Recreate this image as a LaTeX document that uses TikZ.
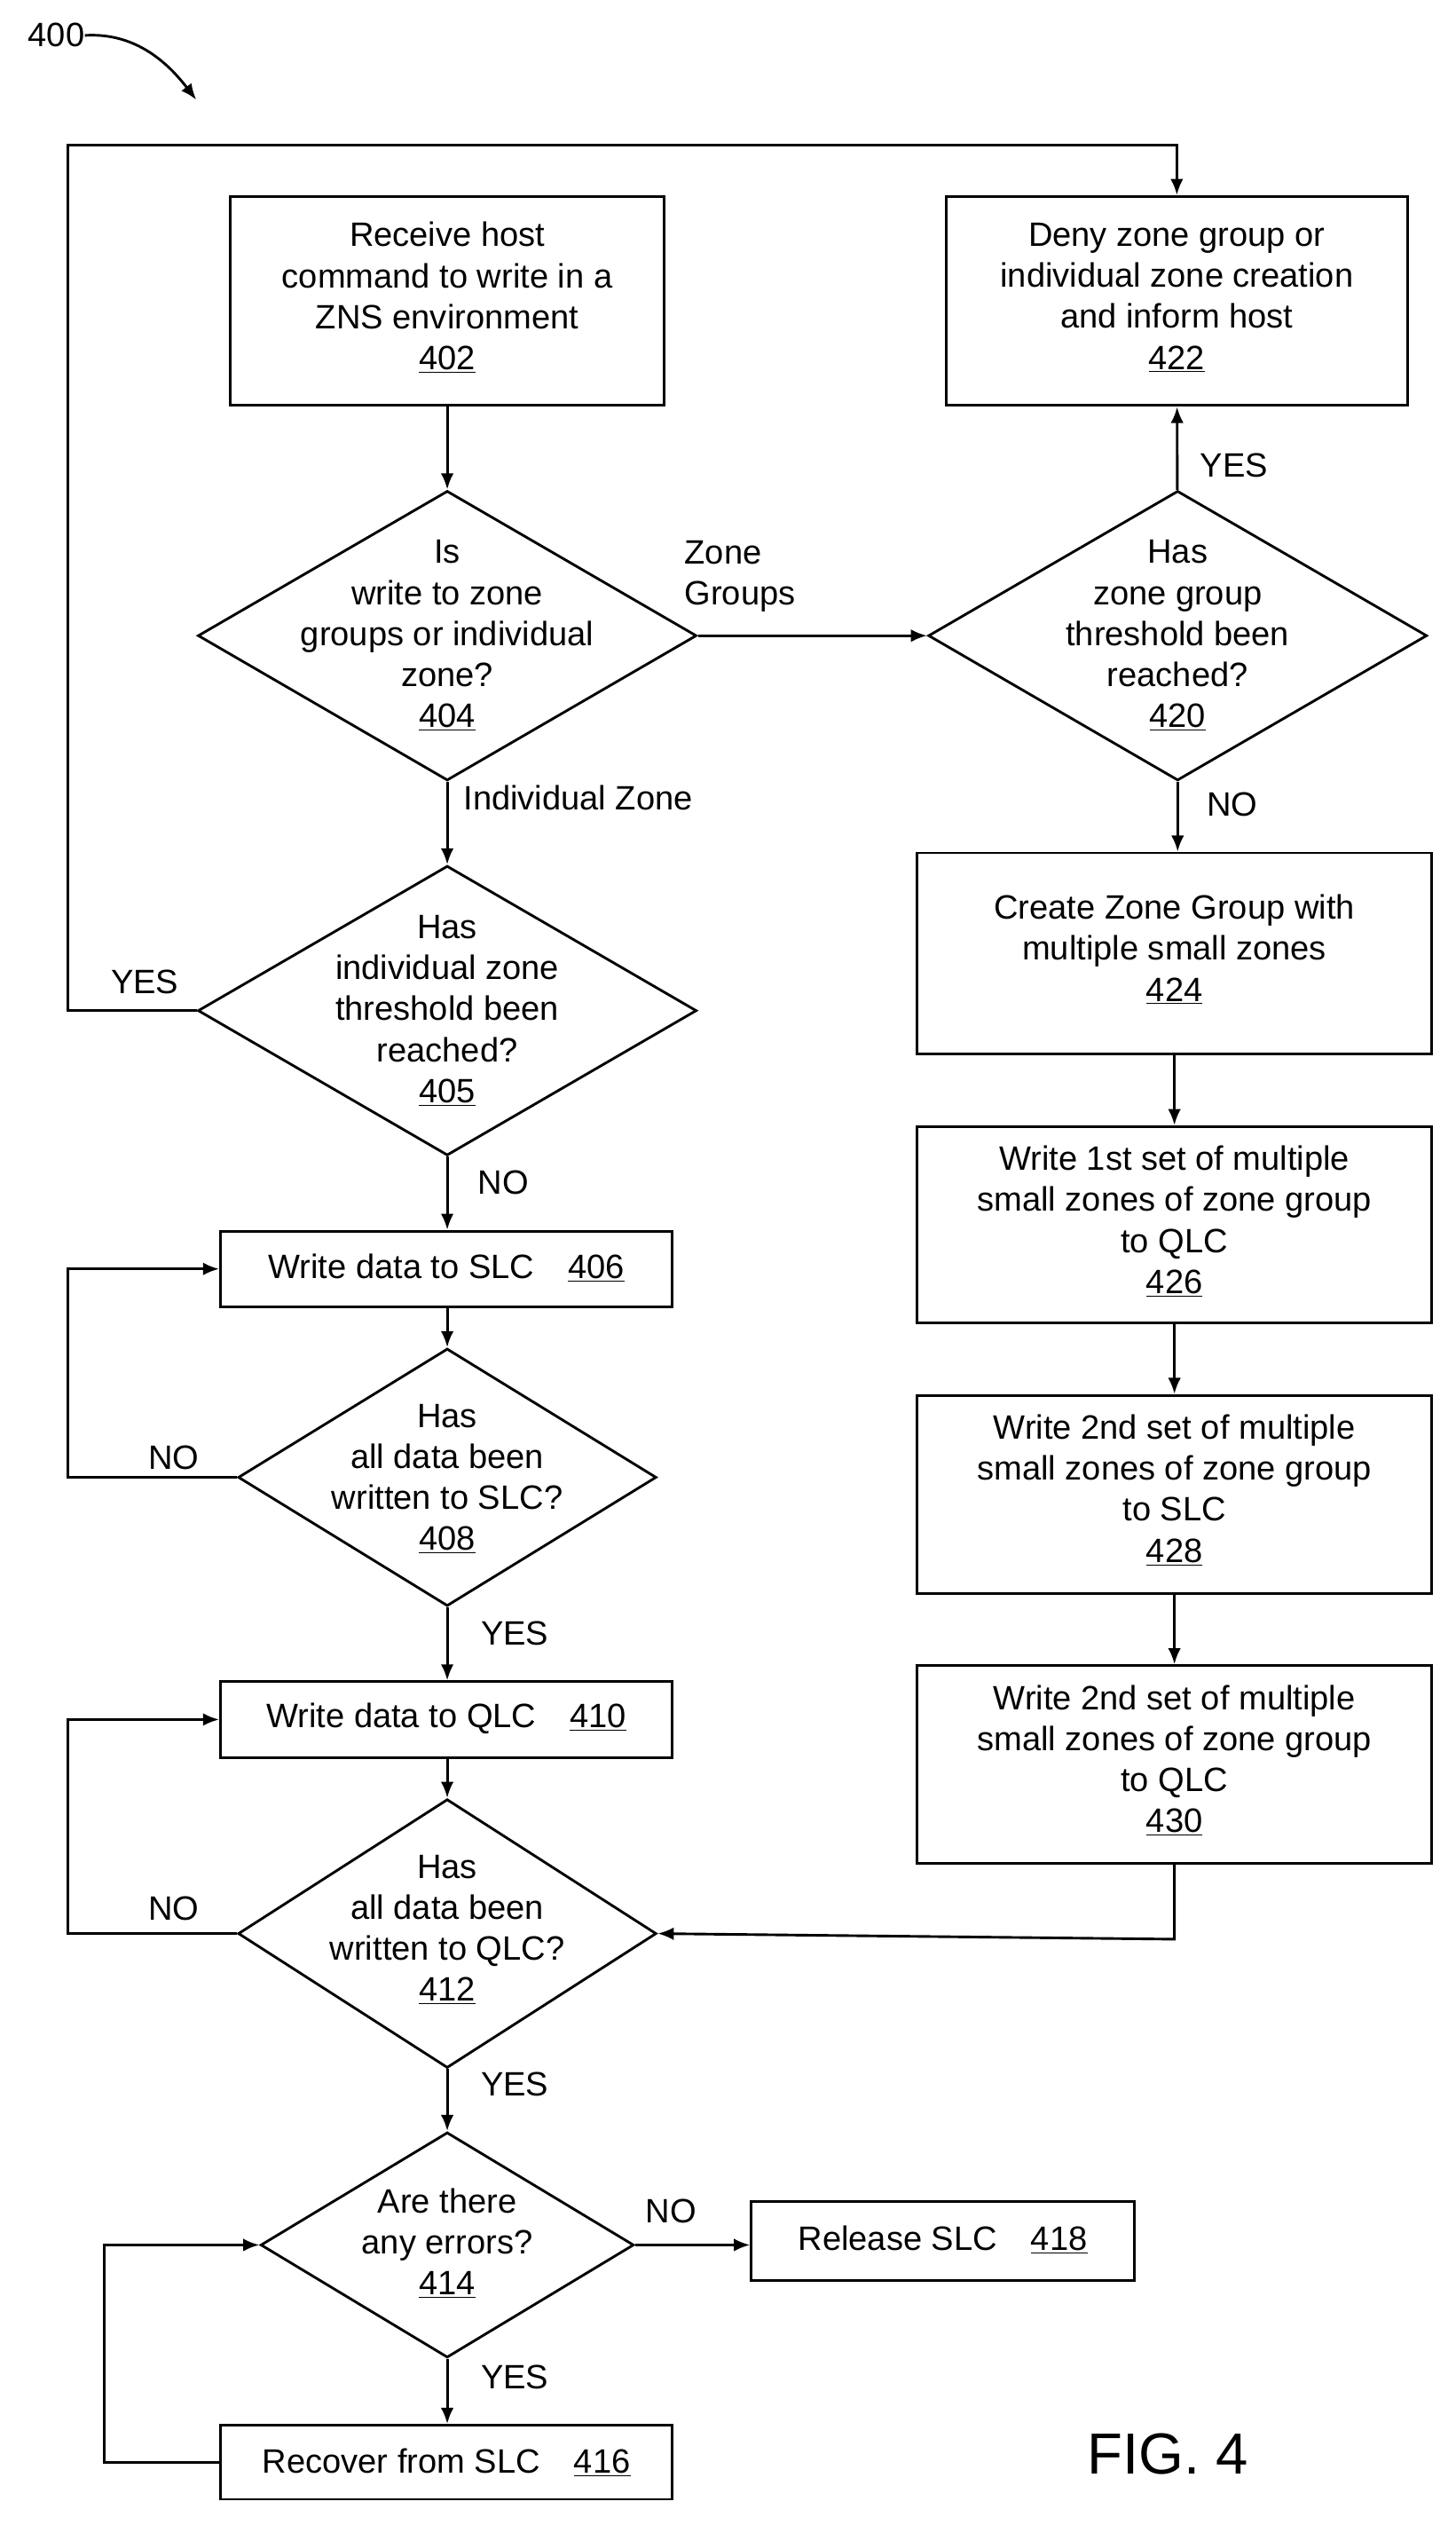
\documentclass[tikz,border=0pt]{standalone}
\usepackage{fontspec}
\setmainfont{Liberation Sans}
\usetikzlibrary{shapes.geometric,arrows.meta}
\begin{document}
\begin{tikzpicture}[x=1pt,y=-1pt,
  box/.style={draw,line width=1.6pt,inner sep=0pt},
  dia/.style={draw,diamond,line width=1.6pt,inner sep=0pt},
  txt/.style={align=center,font=\fontsize{21}{25.5}\selectfont,inner sep=0pt},
  lab/.style={font=\fontsize{21}{25.5}\selectfont,inner sep=0pt},
  arr/.style={line width=1.6pt,-{Latex[length=10pt,width=8pt]}},
  ln/.style={line width=1.6pt}]
\useasboundingbox (0,0) rectangle (905,1574);
\node[lab] (n400) at (35,22) {400};
\coordinate (a400) at (122,62);
\draw[arr] (n400.east) .. controls (85,20) and (105,40) .. (a400);

% boxes
\node[box,minimum width=270,minimum height=130] (b402) at (278,187) {};
\node[txt] (t402) at (278,185) {Receive host\\command to write in a\\ZNS environment\\\underline{402}};
\node[box,minimum width=287,minimum height=130] (b422) at (731.5,187) {};
\node[txt] (t422) at (731.5,185) {Deny zone group or\\individual zone creation\\and inform host\\\underline{422}};
\node[box,minimum width=320,minimum height=125] (b424) at (730,592.5) {};
\node[txt] (t424) at (730,590) {Create Zone Group with\\multiple small zones\\\underline{424}};
\node[box,minimum width=320,minimum height=122] (b426) at (730,761) {};
\node[txt] (t426) at (730,759) {Write 1st set of multiple\\small zones of zone group\\to QLC\\\underline{426}};
\node[box,minimum width=320,minimum height=123] (b428) at (730,928.5) {};
\node[txt] (t428) at (730,926) {Write 2nd set of multiple\\small zones of zone group\\to SLC\\\underline{428}};
\node[box,minimum width=320,minimum height=123] (b430) at (730,1096.5) {};
\node[txt] (t430) at (730,1094) {Write 2nd set of multiple\\small zones of zone group\\to QLC\\\underline{430}};
\node[box,minimum width=281,minimum height=47] (b406) at (277.5,788.5) {};
\node[txt] (t406) at (277.5,788) {Write data to SLC\quad\underline{406}};
\node[box,minimum width=281,minimum height=47] (b410) at (277.5,1068.5) {};
\node[txt] (t410) at (277.5,1068) {Write data to QLC\quad\underline{410}};
\node[box,minimum width=238,minimum height=49] (b418) at (586,1392.5) {};
\node[txt] (t418) at (586,1392) {Release SLC\quad\underline{418}};
\node[box,minimum width=281,minimum height=46] (b416) at (277.5,1530) {};
\node[txt] (t416) at (277.5,1530) {Recover from SLC\quad\underline{416}};

% diamonds
\node[dia,minimum width=310,minimum height=180] (d404) at (278,395) {};
\node[txt] (t404) at (278,395) {Is\\write to zone\\groups or individual\\zone?\\\underline{404}};
\node[dia,minimum width=310,minimum height=180] (d420) at (732,395) {};
\node[txt] (t420) at (732,395) {Has\\zone group\\threshold been\\reached?\\\underline{420}};
\node[dia,minimum width=310,minimum height=180] (d405) at (278,628) {};
\node[txt] (t405) at (278,628) {Has\\individual zone\\threshold been\\reached?\\\underline{405}};
\node[dia,minimum width=260,minimum height=160] (d408) at (278,918) {};
\node[txt] (t408) at (278,919) {Has\\all data been\\written to SLC?\\\underline{408}};
\node[dia,minimum width=260,minimum height=167] (d412) at (278,1201.5) {};
\node[txt] (t412) at (278,1199) {Has\\all data been\\written to QLC?\\\underline{412}};
\node[dia,minimum width=232,minimum height=140] (d414) at (278,1395) {};
\node[txt] (t414) at (278,1394) {Are there\\any errors?\\\underline{414}};

% labels
\node[lab,align=left] (lzg) at (460,358) {Zone\\Groups};
\node[lab,anchor=west] (liz) at (288,496) {Individual Zone};
\node[lab] (lyes422) at (767,289) {YES};
\node[lab] (lno420) at (766,500) {NO};
\node[lab] (lyes405) at (90,610) {YES};
\node[lab] (lno405) at (313,735) {NO};
\node[lab] (lno408) at (108,906) {NO};
\node[lab] (lyes408) at (320,1015) {YES};
\node[lab] (lno412) at (108,1186) {NO};
\node[lab] (lyes412) at (320,1295) {YES};
\node[lab] (lno414) at (417,1374) {NO};
\node[lab] (lyes414) at (320,1477) {YES};
\node[font=\fontsize{36}{40}\selectfont,inner sep=0pt] (fig) at (726,1525) {FIG. 4};

% connectors
\coordinate (c1) at (42,628);
\coordinate (c2) at (42,90);
\coordinate (c3) at (731.5,90);
\draw[arr] (d405.west) -- (c1) -- (c2) -- (c3) -- (b422.north);
\draw[arr] (b402) -- (d404);
\draw[arr] (d404) -- (d420);
\draw[arr] (d420) -- (b422);
\draw[arr] (d420.south) -- (b424.north -| d420.south);
\draw[arr] (b424) -- (b426);
\draw[arr] (b426) -- (b428);
\draw[arr] (b428) -- (b430);
\coordinate (c4) at (730,1205);
\draw[arr] (b430.south) -- (c4) -- (d412.east);
\draw[arr] (d404) -- (d405);
\draw[arr] (d405.south) -- (b406.north -| d405.south);
\draw[arr] (b406.south -| d408.north) -- (d408.north);
\coordinate (c5) at (42,918);
\coordinate (c6) at (42,788.5);
\draw[arr] (d408.west) -- (c5) -- (c6) -- (b406.west);
\draw[arr] (d408.south) -- (b410.north -| d408.south);
\draw[arr] (b410.south -| d412.north) -- (d412.north);
\coordinate (c7) at (42,1201.5);
\coordinate (c8) at (42,1068.5);
\draw[arr] (d412.west) -- (c7) -- (c8) -- (b410.west);
\draw[arr] (d412.south) -- (d414.north);
\draw[arr] (d414.east) -- (b418.west |- d414.east);
\draw[arr] (d414.south) -- (b416.north -| d414.south);
\coordinate (c9) at (65,1530);
\coordinate (c10) at (65,1395);
\draw[arr] (b416.west) -- (c9) -- (c10) -- (d414.west);
\end{tikzpicture}
\end{document}
